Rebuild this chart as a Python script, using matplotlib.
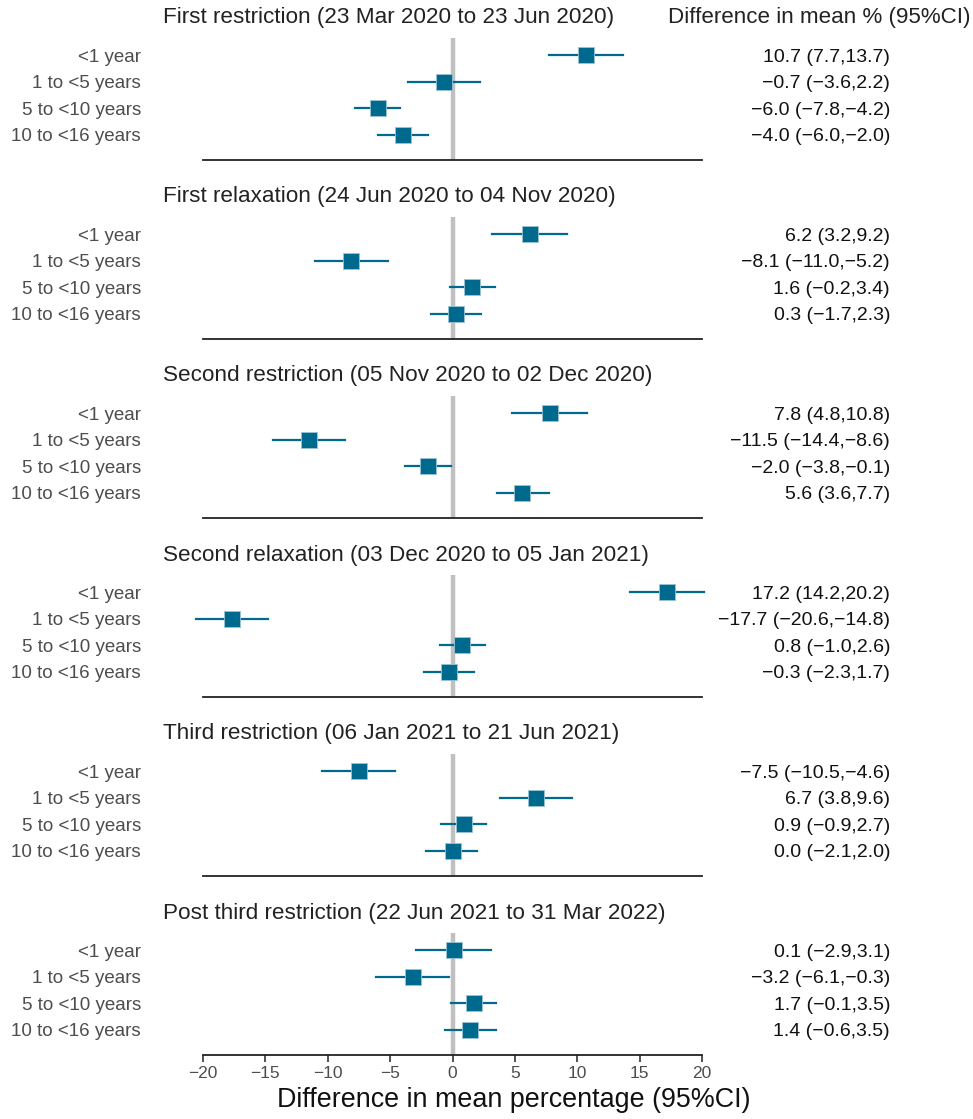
import matplotlib
matplotlib.use("Agg")
import matplotlib.pyplot as plt
import matplotlib.transforms as mtransforms

plt.rcParams['font.family'] = ['Liberation Sans', 'DejaVu Sans']

# periods (panel titles)
periods = [
    'First restriction (23 Mar 2020 to 23 Jun 2020)',
    'First relaxation (24 Jun 2020 to 04 Nov 2020)',
    'Second restriction (05 Nov 2020 to 02 Dec 2020)',
    'Second relaxation (03 Dec 2020 to 05 Jan 2021)',
    'Third restriction (06 Jan 2021 to 21 Jun 2021)',
    'Post third restriction (22 Jun 2021 to 31 Mar 2022)',
]
age_groups = ['<1 year', '1 to <5 years', '5 to <10 years', '10 to <16 years']

# difference in mean % and 95% CI, per period, per age group
est = [
    [10.7, -0.7, -6.0, -4.0],
    [6.2, -8.1, 1.6, 0.3],
    [7.8, -11.5, -2.0, 5.6],
    [17.2, -17.7, 0.8, -0.3],
    [-7.5, 6.7, 0.9, 0.0],
    [0.1, -3.2, 1.7, 1.4],
]
lower = [
    [7.7, -3.6, -7.8, -6.0],
    [3.2, -11.0, -0.2, -1.7],
    [4.8, -14.4, -3.8, 3.6],
    [14.2, -20.6, -1.0, -2.3],
    [-10.5, 3.8, -0.9, -2.1],
    [-2.9, -6.1, -0.1, -0.6],
]
upper = [
    [13.7, 2.2, -4.2, -2.0],
    [9.2, -5.2, 3.4, 2.3],
    [10.8, -8.6, -0.1, 7.7],
    [20.2, -14.8, 2.6, 1.7],
    [-4.6, 9.6, 2.7, 2.0],
    [3.1, -0.3, 3.5, 3.5],
]
xticks = [-20, -15, -10, -5, 0, 5, 10, 15, 20]

W, H = 973, 1119
fig = plt.figure(figsize=(W / 100, H / 100), dpi=100)

col = '#006a8e'
ax_left, ax_right = 203, 702

def fmt(v):
    return f'{v:.1f}'.replace('-', '\u2212')

for k, title in enumerate(periods):
    top = 38 + 179 * k
    bot = 160 + 179 * k
    ax = fig.add_axes([ax_left / W, 1 - bot / H, (ax_right - ax_left) / W, (bot - top) / H])
    ypos = list(range(len(age_groups)))
    ax.axvline(0, color='#c0c0c0', lw=3.2, zorder=1)
    for i in ypos:
        ax.plot([lower[k][i], upper[k][i]], [i, i], color=col, lw=1.6, zorder=2,
                clip_on=False)
    ax.plot(est[k], ypos, ls='none', marker='s', ms=11, color=col,
            markeredgecolor='#9cc3d3', markeredgewidth=0.6, zorder=3, clip_on=False)
    ax.set_xlim(-20, 20)
    ax.set_ylim(3.94, -0.64)
    ax.set_yticks(ypos)
    ax.set_yticklabels(age_groups, fontsize=13.5, color='#4d4d4d')
    ax.tick_params(axis='y', length=0, pad=(ax_left - 141) * 0.72)
    for s in ['top', 'left', 'right']:
        ax.spines[s].set_visible(False)
    ax.spines['bottom'].set_linewidth(1.3)
    ax.spines['bottom'].set_color('#222222')
    if k == len(periods) - 1:
        ax.set_xticks(xticks)
        ax.set_xticklabels([str(t).replace('-', '\u2212') for t in xticks],
                           fontsize=12.5, color='#4d4d4d')
        ax.tick_params(axis='x', length=5, width=1.1, color='#222222', pad=3)
    else:
        ax.set_xticks([])

    ax.text((163 - ax_left) / (ax_right - ax_left), 1 + 20 / (bot - top), title,
            transform=ax.transAxes, ha='left', va='center', fontsize=16.2, color='#222222')

    trans = mtransforms.blended_transform_factory(ax.transAxes, ax.transData)
    for i in ypos:
        txt = f'{fmt(est[k][i])} ({fmt(lower[k][i])},{fmt(upper[k][i])})'
        ax.text((890 - ax_left) / (ax_right - ax_left), i, txt, transform=trans,
                ha='right', va='center_baseline', fontsize=14, color='#111111')
    if k == 0:
        ax.text((970 - ax_left) / (ax_right - ax_left), 1 + 20 / (bot - top),
                'Difference in mean % (95%CI)', transform=ax.transAxes,
                ha='right', va='center', fontsize=16.1, color='#222222')

fig.text(514 / W, 1 - 1100 / H, 'Difference in mean percentage (95%CI)',
         ha='center', va='center', fontsize=19.4, color='#111111')

fig.savefig('out.png', dpi=100, facecolor='white')
